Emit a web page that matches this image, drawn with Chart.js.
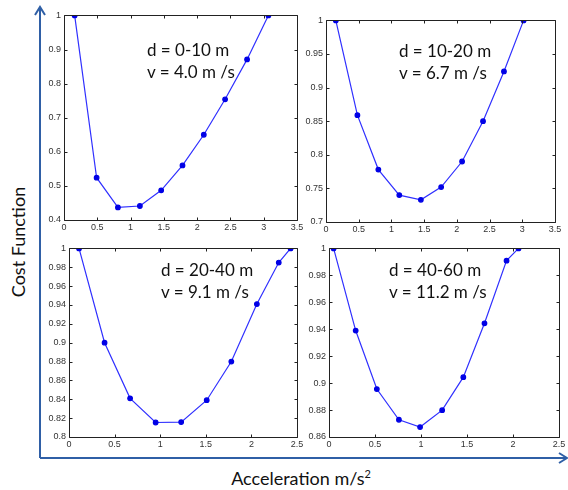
<!DOCTYPE html>
<html>
<head>
<meta charset="utf-8">
<script src="https://cdn.jsdelivr.net/npm/chart.js@4"></script>
<style>
  html, body { margin:0; padding:0; background:#fff; }
  #wrap { position:relative; width:568px; height:490px; overflow:hidden; background:#fff; }
  canvas.pc { position:absolute; }
  .ann { position:absolute; font-family: Lato, "Open Sans", sans-serif; font-size:17px; color:#111; white-space:nowrap; line-height:20px; }
  .big { position:absolute; font-family: Lato, "Open Sans", sans-serif; font-size:18px; color:#111; white-space:nowrap; line-height:22px; }
  svg { position:absolute; left:0; top:0; }
</style>
</head>
<body>
<div id="wrap">
  <svg width="568" height="490">
    <g stroke="#2f5fa6" stroke-width="2" fill="none">
      <polyline points="40,458 40,8"/>
      <polyline points="35,15 40,7 45,15"/>
      <polyline points="40,458 566,458"/>
      <polyline points="559,453 567,458 559,463"/>
    </g>
  </svg>
</div>
<script>
// ---- data ----
const p1X = [0.16, 0.49, 0.81, 1.14, 1.46, 1.78, 2.10, 2.42, 2.75, 3.07];
const p1Y = [1.0, 0.524, 0.437, 0.441, 0.487, 0.560, 0.650, 0.754, 0.871, 1.0];
const p2X = [0.15, 0.48, 0.80, 1.12, 1.45, 1.76, 2.08, 2.40, 2.72, 3.02];
const p2Y = [1.0, 0.859, 0.778, 0.740, 0.733, 0.752, 0.790, 0.850, 0.924, 1.0];
const p3X = [0.11, 0.39, 0.67, 0.95, 1.23, 1.51, 1.78, 2.06, 2.30, 2.43];
const p3Y = [1.0, 0.900, 0.841, 0.8154, 0.8158, 0.839, 0.880, 0.941, 0.985, 1.0];
const p4X = [0.05, 0.29, 0.52, 0.76, 0.99, 1.23, 1.46, 1.69, 1.93, 2.06];
const p4Y = [1.0, 0.939, 0.8956, 0.8728, 0.8674, 0.8799, 0.9044, 0.9444, 0.9909, 1.0];

const p1Label = ['d = 0-10 m', 'v = 4.0 m /s'];
const p2Label = ['d = 10-20 m', 'v = 6.7 m /s'];
const p3Label = ['d = 20-40 m', 'v = 9.1 m /s'];
const p4Label = ['d = 40-60 m', 'v = 11.2 m /s'];

// axis ranges [min, max, step]
const p1XAxis = [0, 3.5, 0.5], p1YAxis = [0.4, 1, 0.1];
const p2XAxis = [0, 3.5, 0.5], p2YAxis = [0.7, 1, 0.05];
const p3XAxis = [0, 2.5, 0.5], p3YAxis = [0.8, 1, 0.02];
const p4XAxis = [0, 2.5, 0.5], p4YAxis = [0.86, 1, 0.02];

const yAxisTitle = 'Cost Function';
const xAxisTitle = 'Acceleration m/s';

// ---- layout ----
const panels = [
  { x:p1X, y:p1Y, xa:p1XAxis, ya:p1YAxis, lab:p1Label, rect:[64,15,297,220], tp:[147,50] },
  { x:p2X, y:p2Y, xa:p2XAxis, ya:p2YAxis, lab:p2Label, rect:[326,20,555,222], tp:[399,51] },
  { x:p3X, y:p3Y, xa:p3XAxis, ya:p3YAxis, lab:p3Label, rect:[69,248,297,437], tp:[161,270] },
  { x:p4X, y:p4Y, xa:p4XAxis, ya:p4YAxis, lab:p4Label, rect:[329,248,559,437], tp:[389,270] }
];

const ML = 30, MT = 8, MR = 10, MB = 16;
const wrap = document.getElementById('wrap');
const fmt = v => String(Number(v.toFixed(3)));

const boxPlugin = {
  id: 'box',
  afterDraw(chart) {
    const ctx = chart.ctx, a = chart.chartArea;
    const xs = chart.scales.x, ys = chart.scales.y;
    ctx.save();
    ctx.strokeStyle = '#222';
    ctx.lineWidth = 1;
    ctx.beginPath();
    const L = Math.round(a.left) + 0.5, R = Math.round(a.right) + 0.5;
    const T = Math.round(a.top) + 0.5, B = Math.round(a.bottom) + 0.5;
    ctx.rect(L, T, R - L, B - T);
    const tl = 3;
    xs.ticks.forEach((t, i) => {
      const px = Math.round(xs.getPixelForTick(i)) + 0.5;
      ctx.moveTo(px, B); ctx.lineTo(px, B - tl);
      ctx.moveTo(px, T); ctx.lineTo(px, T + tl);
    });
    ys.ticks.forEach((t, i) => {
      const py = Math.round(ys.getPixelForTick(i)) + 0.5;
      ctx.moveTo(L, py); ctx.lineTo(L + tl, py);
      ctx.moveTo(R, py); ctx.lineTo(R - tl, py);
    });
    ctx.stroke();
    ctx.restore();
  }
};

panels.forEach((p, idx) => {
  const [l, t, r, b] = p.rect;
  const cv = document.createElement('canvas');
  cv.className = 'pc';
  const W = (r - l) + ML + MR, H = (b - t) + MT + MB;
  cv.width = W; cv.height = H;
  cv.style.left = (l - ML) + 'px';
  cv.style.top = (t - MT) + 'px';
  cv.style.width = W + 'px';
  cv.style.height = H + 'px';
  wrap.appendChild(cv);

  new Chart(cv.getContext('2d'), {
    type: 'scatter',
    data: {
      datasets: [{
        data: p.x.map((xv, i) => ({ x: xv, y: p.y[i] })),
        showLine: true,
        borderColor: '#3030ff',
        borderWidth: 1.2,
        backgroundColor: '#0000e6',
        pointBackgroundColor: '#0000e6',
        pointBorderColor: '#0000e6',
        pointRadius: 2.3,
        tension: 0
      }]
    },
    options: {
      responsive: false,
      animation: false,
      devicePixelRatio: 1,
      layout: { padding: { left: 0, top: MT, right: MR, bottom: 0 } },
      plugins: { legend: { display: false }, tooltip: { enabled: false } },
      scales: {
        x: {
          type: 'linear', min: p.xa[0], max: p.xa[1],
          afterFit: s => { s.height = MB; },
          grid: { display: false, drawTicks: false },
          border: { display: false },
          ticks: { stepSize: p.xa[2], padding: 2, color: '#333', maxRotation: 0, autoSkip: false,
                   font: { family: 'Liberation Sans, Arial, sans-serif', size: 9 },
                   callback: v => fmt(v) }
        },
        y: {
          type: 'linear', min: p.ya[0], max: p.ya[1],
          afterFit: s => { s.width = ML; },
          grid: { display: false, drawTicks: false },
          border: { display: false },
          ticks: { stepSize: p.ya[2], padding: 3, color: '#333', autoSkip: false,
                   font: { family: 'Liberation Sans, Arial, sans-serif', size: 9 },
                   callback: v => fmt(v) }
        }
      }
    },
    plugins: [boxPlugin]
  });

  p.lab.forEach((txt, i) => {
    const d = document.createElement('div');
    d.className = 'ann';
    d.textContent = txt;
    d.style.left = p.tp[0] + 'px';
    d.style.top = (p.tp[1] + i * 22 - 10) + 'px';
    wrap.appendChild(d);
  });
});

const yt = document.createElement('div');
yt.className = 'big';
yt.textContent = yAxisTitle;
yt.style.left = '18px';
yt.style.top = '242px';
yt.style.transform = 'translate(-50%,-50%) rotate(-90deg)';
wrap.appendChild(yt);

const xt = document.createElement('div');
xt.className = 'big';
xt.innerHTML = xAxisTitle + '<sup style="font-size:11px;vertical-align:7px">2</sup>';
xt.style.left = '301px';
xt.style.top = '476px';
xt.style.transform = 'translate(-50%,-50%)';
wrap.appendChild(xt);
</script>
</body>
</html>
